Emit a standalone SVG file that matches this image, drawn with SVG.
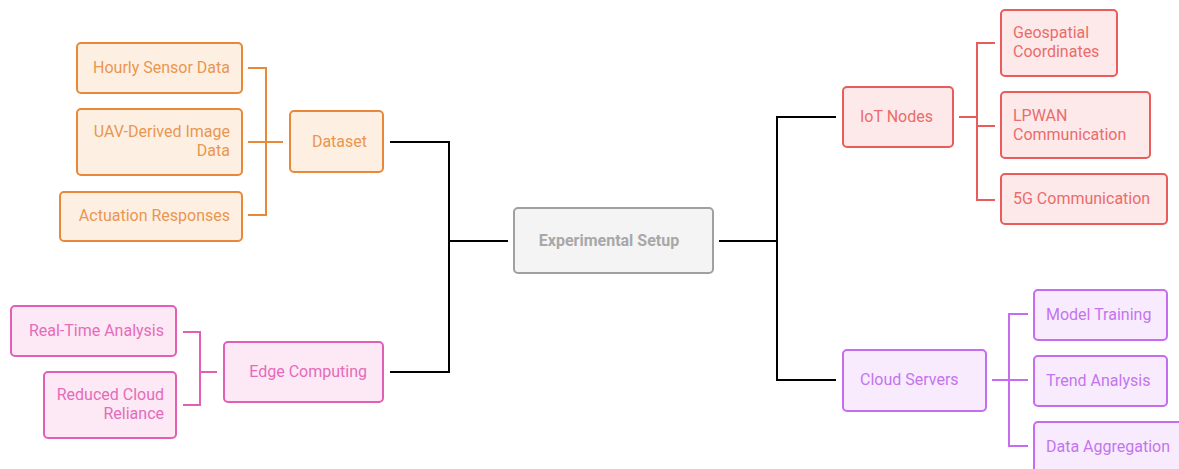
<svg xmlns="http://www.w3.org/2000/svg" width="1179" height="469" viewBox="0 0 1179 469">
  <style>
    text { font-family: Roboto, "Liberation Sans", sans-serif; font-size: 16px; }
    rect { stroke-width: 2; }
    .wire { fill: none; stroke-width: 2; }
    .main { stroke: #000; }
    .orange rect { fill: #fdf0e3; stroke: #e8893a; }
    .orange text { fill: #ea9650; }
    .pink rect { fill: #fde8f5; stroke: #e25fb5; }
    .pink text { fill: #e46cba; }
    .red rect { fill: #fde9e9; stroke: #e85c5c; }
    .red text { fill: #ea6c6c; }
    .purple rect { fill: #f8ebfd; stroke: #c56cf0; }
    .purple text { fill: #c475ee; }
    .root rect { fill: #f4f4f4; stroke: #a0a0a0; }
    .root text { fill: #a8a8a8; font-weight: bold; }
    .end { text-anchor: end; }
  </style>
  <rect width="1179" height="469" fill="#fff"/>

  <g id="connectors">
    <!-- root to branches -->
    <path class="wire main" d="M508 241 H449 M390 142 H449 V372 H390"/>
    <path class="wire main" d="M719 241 H777 M836 117 H777 V380 H836"/>
    <!-- Dataset children -->
    <path class="wire" stroke="#e8893a" d="M248 68 H266 V215 H248 M248 142 H283"/>
    <!-- Edge Computing children -->
    <path class="wire" stroke="#e25fb5" d="M183 332 H200 V405 H183 M200 372 H217"/>
    <!-- IoT Nodes children -->
    <path class="wire" stroke="#e85c5c" d="M959 117 H977 M995 43 H977 V200 H995 M977 126 H995"/>
    <!-- Cloud Servers children -->
    <path class="wire" stroke="#c56cf0" d="M992 380 H1028 M1028 314 H1009 V446 H1028"/>
  </g>

  <g id="root" class="root">
    <rect x="514" y="208" width="199" height="65" rx="4"/>
    <text x="609" y="246" text-anchor="middle">Experimental Setup</text>
  </g>

  <g id="dataset" class="orange">
    <rect x="290" y="111" width="93" height="61" rx="4"/>
    <text x="367" y="147" class="end">Dataset</text>
  </g>
  <g id="hourly-sensor-data" class="orange">
    <rect x="77" y="43" width="165" height="50" rx="4"/>
    <text x="230" y="73" class="end">Hourly Sensor Data</text>
  </g>
  <g id="uav-image-data" class="orange">
    <rect x="77" y="109" width="165" height="66" rx="4"/>
    <text x="230" y="137" class="end">UAV-Derived Image</text>
    <text x="230" y="156" class="end">Data</text>
  </g>
  <g id="actuation-responses" class="orange">
    <rect x="60" y="192" width="182" height="49" rx="4"/>
    <text x="230" y="221" class="end">Actuation Responses</text>
  </g>

  <g id="edge-computing" class="pink">
    <rect x="224" y="342" width="159" height="60" rx="4"/>
    <text x="367" y="377" class="end">Edge Computing</text>
  </g>
  <g id="real-time-analysis" class="pink">
    <rect x="11" y="306" width="165" height="50" rx="4"/>
    <text x="164" y="336" class="end">Real-Time Analysis</text>
  </g>
  <g id="reduced-cloud-reliance" class="pink">
    <rect x="44" y="372" width="132" height="66" rx="4"/>
    <text x="164" y="400" class="end">Reduced Cloud</text>
    <text x="164" y="419" class="end">Reliance</text>
  </g>

  <g id="iot-nodes" class="red">
    <rect x="843" y="87" width="110" height="60" rx="4"/>
    <text x="860" y="122">IoT Nodes</text>
  </g>
  <g id="geospatial-coordinates" class="red">
    <rect x="1001" y="10" width="116" height="66" rx="4"/>
    <text x="1013" y="38">Geospatial</text>
    <text x="1013" y="57">Coordinates</text>
  </g>
  <g id="lpwan-communication" class="red">
    <rect x="1001" y="92" width="149" height="66" rx="4"/>
    <text x="1013" y="121">LPWAN</text>
    <text x="1013" y="140">Communication</text>
  </g>
  <g id="5g-communication" class="red">
    <rect x="1001" y="174" width="166" height="50" rx="4"/>
    <text x="1013" y="204">5G Communication</text>
  </g>

  <g id="cloud-servers" class="purple">
    <rect x="843" y="350" width="143" height="61" rx="4"/>
    <text x="860" y="385">Cloud Servers</text>
  </g>
  <g id="model-training" class="purple">
    <rect x="1034" y="290" width="133" height="50" rx="4"/>
    <text x="1046" y="320">Model Training</text>
  </g>
  <g id="trend-analysis" class="purple">
    <rect x="1034" y="356" width="133" height="50" rx="4"/>
    <text x="1046" y="386">Trend Analysis</text>
  </g>
  <g id="data-aggregation" class="purple">
    <rect x="1034" y="422" width="152" height="56" rx="4"/>
    <text x="1046" y="452">Data Aggregation</text>
  </g>
</svg>
